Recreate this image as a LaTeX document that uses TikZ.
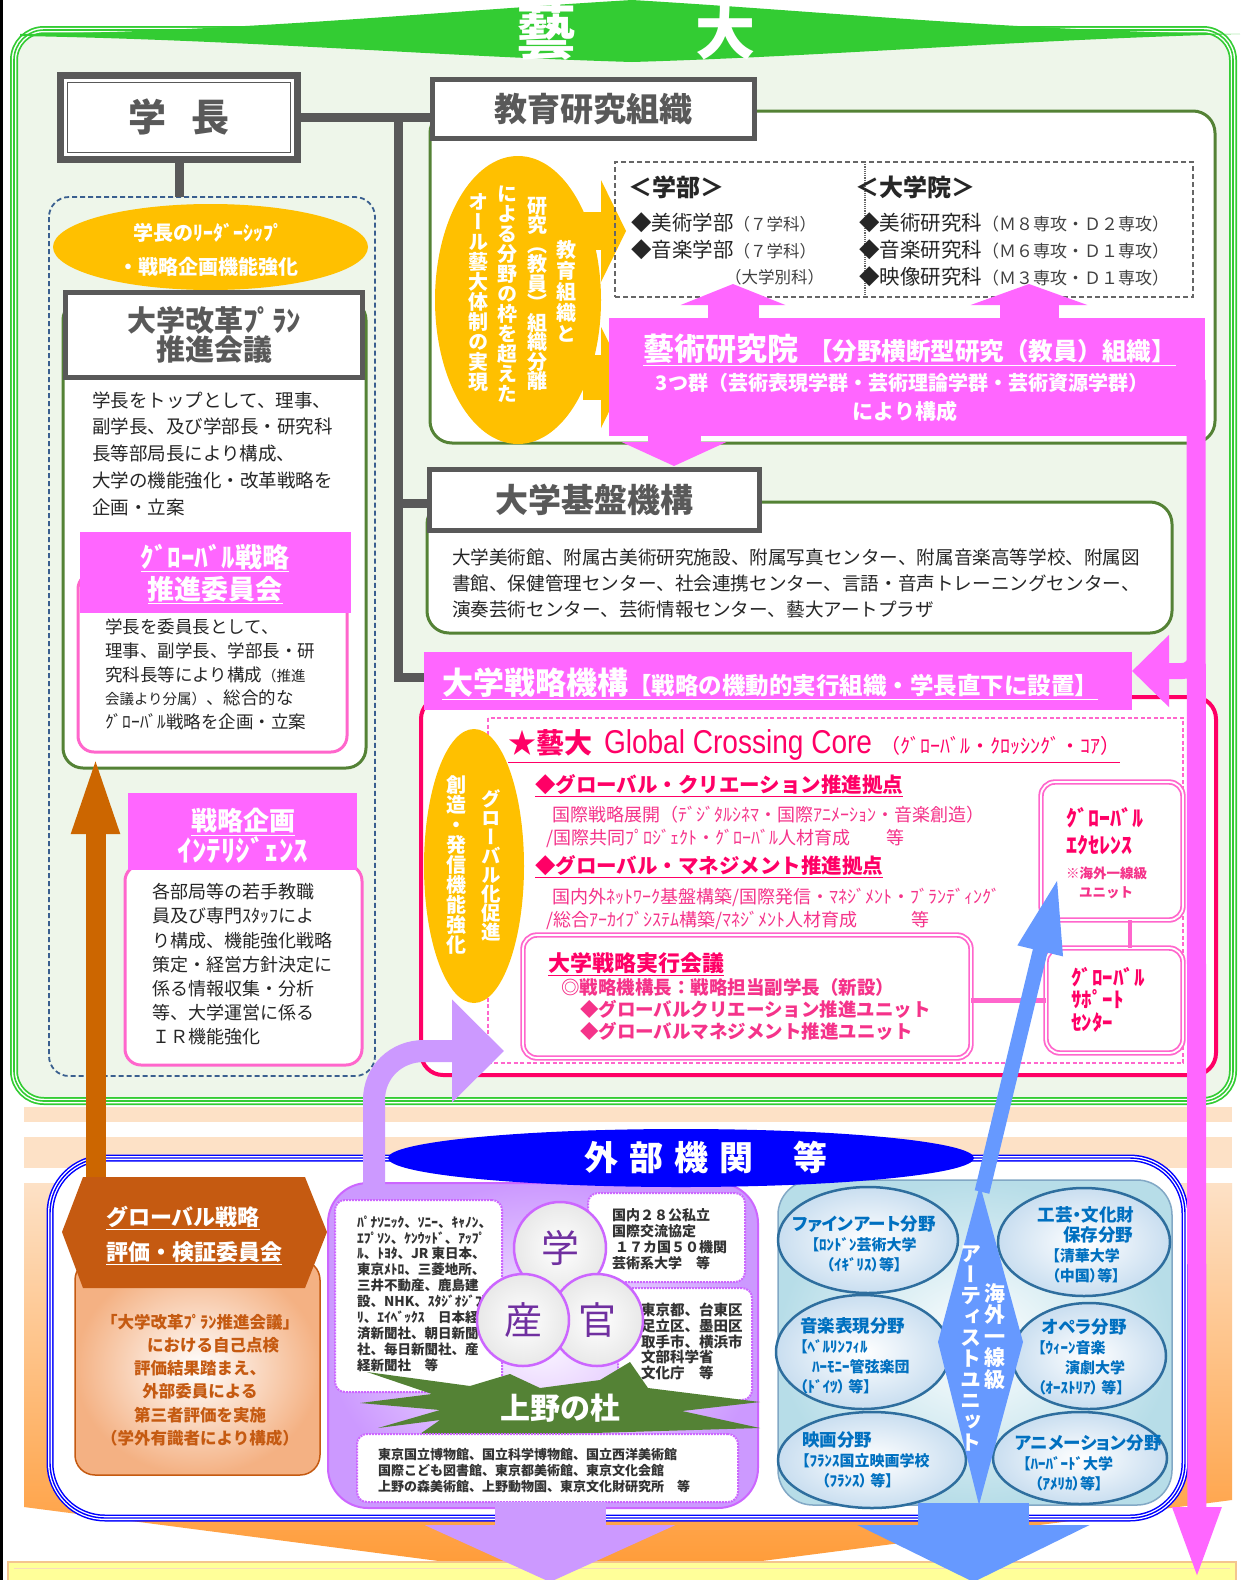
\documentclass[tikz,border=0pt]{standalone}
\usepackage{fontspec}
\usepackage{graphicx}
\setmainfont{Noto Sans CJK JP}
\newfontfamily\vfont{Noto Sans CJK JP}[RawFeature=+vert]
\newfontfamily\pf{Noto Sans CJK JP}[RawFeature=+palt]
\newfontfamily\latf{Liberation Sans}
\usetikzlibrary{arrows.meta,calc,shapes.geometric}
\newcommand\fsz[2]{\fontsize{#1}{#2}\selectfont}
\makeatletter
\newcommand\vtxt[1]{\vbox{\@tfor\vt@c:=#1\do{\hbox to 1em{\hss\vt@c\hss}}}}
\makeatother
\definecolor{cgray}{HTML}{595959}
\definecolor{cgreen}{HTML}{548235}
\definecolor{bgreen}{HTML}{33CC33}
\definecolor{lgreen}{HTML}{EEF6EA}
\definecolor{cpink}{HTML}{FF66FF}
\definecolor{lpink}{HTML}{FF66CC}
\definecolor{cred}{HTML}{FF0066}
\definecolor{tred}{HTML}{F5338A}
\definecolor{cyel}{HTML}{FFC000}
\definecolor{corg}{HTML}{C55A11}
\definecolor{carrow}{HTML}{CC6600}
\definecolor{cpur}{HTML}{CC99FF}
\definecolor{cpurd}{HTML}{CC66FF}
\definecolor{cppl}{HTML}{7030A0}
\definecolor{cblue}{HTML}{0000FF}
\definecolor{lblue}{HTML}{B7DDE8}
\definecolor{eblue}{HTML}{2E6E9E}
\definecolor{ellb}{HTML}{C9DEF0}
\definecolor{tblue}{HTML}{0070C0}
\definecolor{ablue}{HTML}{6699FF}
\definecolor{dblue}{HTML}{3A5F8F}
\definecolor{peach}{HTML}{FDE1C6}
\definecolor{corange}{HTML}{FF9933}
\definecolor{ybox}{HTML}{FFFF99}
\definecolor{ybord}{HTML}{F4C58E}
\definecolor{lorg}{HTML}{F4B183}
\definecolor{cgl}{HTML}{E8E8E8}
\begin{document}
\begin{tikzpicture}[x=1pt,y=-1pt,
  every node/.style={inner sep=0pt,outer sep=0pt},
  hdr/.style={draw=cgray,line width=5,fill=white,text=cgray,font=\bfseries\fsz{33}{33}},
  gbox/.style={draw=cgreen,line width=3,fill=white,rounded corners=22},
  pbox/.style={draw=lpink,line width=3,fill=white,rounded corners=16},
  dpbox/.style={draw=lpink,double=white,double distance=1.8,line width=1.8,fill=white,rounded corners=14},
  wt/.style={text=white,font=\bfseries\fsz{#1}{#1}},
  vt/.style={text=white,font=\vfont\bfseries\fsz{20}{20}},
  rt/.style={text=cred,font=\bfseries\fsz{#1}{#1}},
  ptx/.style={text=tred,font=\fsz{#1}{#1}},
  blt/.style={text=tblue,font=\pf\bfseries\fsz{15}{20},align=left,anchor=west},
  ell/.style={draw=eblue,line width=2.5,inner color=white,outer color=ellb},
  dotbox/.style={draw=cpurd,densely dotted,line width=2,fill=white,rounded corners=10}
]
\useasboundingbox (0,0) rectangle (1241,1580);
\fill[white] (0,0) rectangle (1241,1580);
\draw[black,line width=2.5] (1.25,0) -- (1.25,1580);

% ---------- lower background ----------
\fill[peach] (24,1107) rectangle (1232,1122);
\fill[peach] (24,1137) rectangle (1232,1168);
\shade[top color=peach,bottom color=corange] (24,1183) -- (1232,1183) -- (1232,1500) -- (600,1582) -- (24,1507) -- cycle;
\fill[ybox] (8,1562) rectangle (1236,1580);
\draw[ybord,line width=1.5] (8,1580) -- (8,1562) -- (1236,1562) -- (1236,1580);
\draw[ybord!60,line width=1] (14,1568) -- (1230,1568);

% ---------- big green frame ----------
\draw[bgreen,line width=8,fill=lgreen,rounded corners=30] (14,30) rectangle (1233,1101);
\draw[white,line width=4.5,rounded corners=30] (14,30) rectangle (1233,1101);
\draw[bgreen,line width=1.6,rounded corners=30] (14,30) rectangle (1233,1101);

% banner
\fill[bgreen] (20,34) .. controls (250,31) and (430,12) .. (632,0) .. controls (834,12) and (1014,31) .. (1240,34) .. controls (1014,40) and (834,56) .. (632,62) .. controls (430,56) and (250,40) .. (20,36) -- cycle;
\node[wt=60] (geidai) at (636,32) {藝\kern119pt 大};

% ---------- 学長 ----------
\node[draw=cgray,line width=7,fill=white,minimum width=237,minimum height=84] (gakucho) at (179,117.5) {};
\draw[cgray,line width=1.5] ([shift={(7,7)}]gakucho.north west) rectangle ([shift={(-7,-7)}]gakucho.south east);
\node[text=cgray,font=\bfseries\fsz{38}{38}] (gakuchoT) at (179,117) {学\kern25pt 長};

% ---------- 教育研究組織 ----------
\draw[gbox] (430,111) rectangle (1215,443);
\node[hdr,minimum width=322,minimum height=59] (kyoiku) at (593.5,109) {教育研究組織};

% yellow ellipse with arrows
\fill[cyel] (518,300) ellipse [x radius=83,y radius=144];
\fill[cyel] (583,212) rectangle (601,250);
\fill[cyel] (601,180) -- (626,231) -- (601,282) -- cycle;
\fill[cyel] (583,355) rectangle (601,400);
\fill[cyel] (601,327) -- (626,377) -- (601,428) -- cycle;
\node[vt,font=\vfont\bfseries\fsz{20}{21}] (yv1) at (566,291) {\vtxt{教育組織と}};
\node[vt,font=\vfont\bfseries\fsz{20}{19.5}] (yv2) at (537,294) {\vtxt{研究︵教員︶組織分離}};
\node[vt] (yv3) at (507,294) {\vtxt{による分野の枠を超えた}};
\node[vt] (yv4) at (478,293) {\vtxt{オール藝大体制の実現}};

% 学部 / 大学院 box
\node[draw=gray!80!black,dash pattern=on 5pt off 3pt,line width=1.5,minimum width=578,minimum height=135,anchor=north west] (gakubox) at (615,162) {};
\draw[gray!80!black,densely dotted,line width=1.2] (gakubox.north) ++(-39,0) coordinate (dv1) -- (dv1 |- gakubox.south);
\node[anchor=west,font=\bfseries\fsz{24}{24},text=black!85] (gakubu) at (628,187) {＜学部＞};
\node[anchor=west,align=left,font=\fsz{20.5}{27},text=black!85] (gbl) at (631,236.5) {◆美術学部{\fsz{16.5}{27}\color{black!75}（７学科）}\\◆音楽学部{\fsz{16.5}{27}\color{black!75}（７学科）}};
\node[anchor=east,font=\fsz{16.5}{16.5},text=black!75] (gbb) at (824,277) {（大学別科）};
\node[anchor=west,font=\bfseries\fsz{24}{24},text=black!85] (daigakuin) at (855,187) {＜大学院＞};
\node[anchor=west,align=left,font=\fsz{20.5}{27},text=black!85] (gil) at (859,250) {◆美術研究科{\fsz{17}{27}\color{black!75}（Ｍ８専攻・Ｄ２専攻）}\\◆音楽研究科{\fsz{17}{27}\color{black!75}（Ｍ６専攻・Ｄ１専攻）}\\◆映像研究科{\fsz{17}{27}\color{black!75}（Ｍ３専攻・Ｄ１専攻）}};

% 藝術研究院
\node[fill=cpink,minimum width=596,minimum height=118,anchor=north west] (geiken) at (609,318) {};
\coordinate (ua1) at (733,284);
\coordinate (ua2) at (1029,284);
\draw[cpink,line width=51,-{Triangle[length=21pt,width=104pt]}] (ua1 |- geiken.north) -- (ua1);
\draw[cpink,line width=59,-{Triangle[length=21pt,width=116pt]}] (ua2 |- geiken.north) -- (ua2);
\node[anchor=west,text=white] (geikenT) at (643,350) {\underline{{\bfseries\fsz{31}{31}藝術研究院}\hspace{10pt}{\bfseries\fsz{24.5}{25}【分野横断型研究（教員）組織】}}};
\node[wt=20] (gunT) at (902,383) {3つ群（芸術表現学群・芸術理論学群・芸術資源学群）};
\node[wt=21] (koseiT) at (905,411) {により構成};

% ---------- 大学基盤機構 ----------
\draw[gbox] (427,502) rectangle (1172,633);
\node[hdr,minimum width=330,minimum height=61] (kiban) at (594.5,500) {大学基盤機構};
\node[anchor=west,align=left,font=\fsz{18.6}{26},text=black!85] (kibanT) at (452,584) {大学美術館、附属古美術研究施設、附属写真センター、附属音楽高等学校、附属図\\書館、保健管理センター、社会連携センター、言語・音声トレーニングセンター、\\演奏芸術センター、芸術情報センター、藝大アートプラザ};
\coordinate (da1) at (674,466);
\draw[cpink,line width=53,-{Triangle[length=24pt,width=104pt]}] (da1 |- geiken.south) -- (da1);

% ---------- 大学戦略機構 ----------
\draw[draw=cred,line width=4,fill=white,rounded corners=22] (421,697) rectangle (1216,1075);
\draw[lpink,dash pattern=on 4pt off 2.5pt,line width=1.3] (488,718) rectangle (1183,1063);
\node[fill=cpink,minimum width=708,minimum height=58,anchor=north west] (senryaku) at (424,652) {};
\node[anchor=west,text=white] (senryakuT) at (442,684) {\underline{{\bfseries\fsz{31}{31}大学戦略機構}{\bfseries\fsz{23.5}{24}【戦略の機動的実行組織・学長直下に設置】}}};

% yellow ellipse in red box
\fill[cyel] (474,866) ellipse [x radius=50,y radius=137];
\node[vt,font=\vfont\bfseries\fsz{19.5}{19}] (gv1) at (491,865) {\vtxt{グローバル化促進}};
\node[vt] (gv2) at (456,865) {\vtxt{創造・発信機能強化}};

% Global Crossing Core texts
\node[anchor=west,text=cred] (gcc) at (508,746) {\underline{{\bfseries\fsz{28}{28}★藝大}\hspace{12pt}{\latf\fsz{33}{33}\scalebox{0.85}[1]{Global Crossing Core}}\hspace{8pt}{\fsz{20}{20}（ｸﾞﾛｰﾊﾞﾙ・ｸﾛｯｼﾝｸﾞ・ｺｱ）}}};
\node[anchor=west,rt=20.5] (gc1) at (535,786) {\underline{◆グローバル・クリエーション推進拠点}};
\node[anchor=west,ptx=18] (gc2) at (552,815) {国際戦略展開（ﾃﾞｼﾞﾀﾙｼﾈﾏ・国際ｱﾆﾒｰｼｮﾝ・音楽創造）};
\node[anchor=west,ptx=18] (gc3) at (546,838) {/国際共同ﾌﾟﾛｼﾞｪｸﾄ・ｸﾞﾛｰﾊﾞﾙ人材育成　　等};
\node[anchor=west,rt=20.5] (gc4) at (535,867) {\underline{◆グローバル・マネジメント推進拠点}};
\node[anchor=west,ptx=18] (gc5) at (552,897) {国内外ﾈｯﾄﾜｰｸ基盤構築/国際発信・ﾏﾈｼﾞﾒﾝﾄ・ﾌﾞﾗﾝﾃﾞｨﾝｸﾞ};
\node[anchor=west,ptx=18] (gc6) at (546,920) {/総合ｱｰｶｲﾌﾞｼｽﾃﾑ構築/ﾏﾈｼﾞﾒﾝﾄ人材育成　　　等};

% 大学戦略実行会議
\node[dpbox,minimum width=448,minimum height=123] (jikko) at (747,996.5) {};
\node[anchor=west,rt=22] (jk1) at (548,964) {\underline{大学戦略実行会議}};
\node[anchor=west,text=tred,font=\bfseries\fsz{18.5}{22},align=left] (jk2) at (561,1010) {◎戦略機構長：戦略担当副学長（新設）\\\hspace{19pt}◆グローバルクリエーション推進ユニット\\\hspace{19pt}◆グローバルマネジメント推進ユニット};

% excellence / support
\node[dpbox,minimum width=142,minimum height=138] (excel) at (1112,851) {};
\node[dpbox,minimum width=137,minimum height=105] (support) at (1114.5,1000.5) {};
\node[anchor=west,text=cred,font=\bfseries\fsz{22}{27},align=left] (ex1) at (1066,831.5) {ｸﾞﾛｰﾊﾞﾙ\\ｴｸｾﾚﾝｽ};
\node[anchor=west,text=tred,font=\bfseries\fsz{13.5}{19},align=left] (ex2) at (1066,882.5) {※海外一線級\\\hspace{13pt}ユニット};
\node[anchor=west,text=cred,font=\bfseries\fsz{21}{22.5},align=left] (sp1) at (1071,999.5) {ｸﾞﾛｰﾊﾞﾙ\\ｻﾎﾟｰﾄ\\ｾﾝﾀｰ};
\draw[lpink,line width=4] ($(excel.south)+(18,0)$) -- ($(support.north)+(15.5,0)$);
\draw[lpink,line width=5] (jikko.east |- support.west) -- (support.west);

% ---------- left column ----------
\draw[dblue,dash pattern=on 5pt off 3pt,line width=1.8,rounded corners=20] (49,197) rectangle (375,1076);
\coordinate (lboxtop) at (179,197);
\node[ellipse,fill=cyel,minimum width=315,minimum height=86] (leader) at (210.5,247) {};
\node[wt=20,align=center,font=\bfseries\fsz{20}{34}] (leaderT) at (208,250) {学長のﾘｰﾀﾞｰｼｯﾌﾟ\\・戦略企画機能強化};

\draw[gbox,rounded corners=20] (63,300) rectangle (366,768);
\node[hdr,minimum width=297,minimum height=85,align=center,font=\bfseries\fsz{29}{29}] (kaikaku) at (214,335) {大学改革ﾌﾟﾗﾝ\\推進会議};
\node[anchor=west,align=left,font=\fsz{18.5}{26.75},text=black!85] (kaikakuB) at (92,453.5) {学長をトップとして、理事、\\副学長、及び学部長・研究科\\長等部局長により構成、\\大学の機能強化・改革戦略を\\企画・立案};

\draw[pbox] (78,573) rectangle (347,752);
\node[fill=cpink,minimum width=271,minimum height=81] (gsuishin) at (215.5,572.5) {};
\node[wt=27,align=center,font=\bfseries\fsz{27}{32}] (gsuishinT) at (215,574) {\underline{ｸﾞﾛｰﾊﾞﾙ戦略}\\\underline{推進委員会}};
\node[anchor=west,align=left,font=\fsz{17.5}{23.75},text=black!85] (gsB) at (105,674.5) {学長を委員長として、\\理事、副学長、学部長・研\\究科長等により構成{\fsz{14.5}{23.75}（推進}\\{\fsz{14.5}{23.75}会議より分属）}、総合的な\\ｸﾞﾛｰﾊﾞﾙ戦略を企画・立案};

\draw[pbox] (125,865) rectangle (362,1065);
\node[fill=cpink,minimum width=229,minimum height=77] (kikaku) at (242.5,831.5) {};
\node[wt=26,align=center,font=\bfseries\fsz{26}{29}] (kikakuT) at (243,836) {\underline{戦略企画}\\{\fsz{29}{29}ｲﾝﾃﾘｼﾞｪﾝｽ}};
\node[anchor=west,align=left,font=\fsz{18}{24.2},text=black!85] (kikakuB) at (152,964.5) {各部局等の若手教職\\員及び専門ｽﾀｯﾌによ\\り構成、機能強化戦略\\策定・経営方針決定に\\係る情報収集・分析\\等、大学運営に係る\\ＩＲ機能強化};

% ---------- gray connectors ----------
\coordinate (j1) at (398,113);
\coordinate (j2) at (398,503);
\coordinate (j3) at (398,677);
\draw[cgray,line width=9] (gakucho.east) -- (gakucho.east -| kyoiku.west);
\draw[cgray,line width=9] (j1) -- (j3) -- (j3 -| senryaku.west);
\draw[cgray,line width=9] (j2) -- (j2 -| kiban.west);
\draw[cgray,line width=9] (gakucho.south) -- (lboxtop);

% ---------- 外部機関 frame ----------
\draw[cblue,line width=7,fill=white,rounded corners=55] (50,1158) rectangle (1185,1518);
\draw[white,line width=4,rounded corners=55] (50,1158) rectangle (1185,1518);
\draw[cblue,line width=1.4,rounded corners=55] (50,1158) rectangle (1185,1518);

% orange committee
\path[draw=corg,line width=1.5,inner color=white,outer color=lorg,rounded corners=20] (75,1260) rectangle (320,1475);
\fill[corg] (83,1177) -- (305,1177) -- (327,1232) -- (305,1288) -- (83,1288) -- (62,1232) -- cycle;
\coordinate (ohdrtop) at (95.5,1177);
\node[anchor=west,align=left,wt=22,font=\bfseries\fsz{22}{35}] (ohdr) at (106,1235.5) {\underline{グローバル戦略}\\\underline{評価・検証委員会}};
\node[align=center,text=corg,font=\bfseries\fsz{16.5}{23.2}] (obody) at (200,1380) {「大学改革ﾌﾟﾗﾝ推進会議」\\\hspace{26pt}における自己点検\\評価結果踏まえ、\\外部委員による\\第三者評価を実施\\（学外有識者により構成）};
\coordinate (otip) at (95.5,752);
\draw[carrow,line width=20,-{Triangle[length=82pt,width=42pt]}] (ohdrtop) -- (otip);

% ---------- 産学官 group ----------
\path[draw=cpurd,line width=2,inner color=cpur!10,outer color=cpur,rounded corners=40] (328,1183) rectangle (758,1508);
\node[dotbox,minimum width=167,minimum height=192,anchor=north west] (sang) at (335,1200) {};
\node[dotbox,minimum width=157,minimum height=89,anchor=north west] (gakub) at (588,1193) {};
\node[dotbox,minimum width=134,minimum height=112,anchor=north west] (kanb) at (618,1288) {};
\node[anchor=west,align=left,font=\bfseries\fsz{13.5}{15.9},text=black!80] (sangT) at (357,1293.5) {ﾊﾟﾅｿﾆｯｸ、ｿﾆｰ、ｷｬﾉﾝ、\\ｴﾌﾟｿﾝ、ｹﾝｳｯﾄﾞ、ｱｯﾌﾟ\\ﾙ、ﾄﾖﾀ、JR 東日本、\\東京ﾒﾄﾛ、三菱地所、\\三井不動産、鹿島建\\設、NHK、ｽﾀｼﾞｵｼﾞﾌﾞ\\ﾘ、ｴｲﾍﾞｯｸｽ　日本経\\済新聞社、朝日新聞\\社、毎日新聞社、産\\経新聞社　等};
\node[anchor=west,align=left,font=\bfseries\fsz{14}{16},text=black!80] (gakuT) at (612,1239) {国内２８公私立\\国際交流協定\\\hspace{3pt}１７カ国５０機関\\芸術系大学　等};
\node[anchor=west,align=left,font=\bfseries\fsz{14.5}{15.8},text=black!80] (kanT) at (641,1341.5) {東京都、台東区\\足立区、墨田区\\取手市、横浜市\\文部科学省\\文化庁　等};
\node[circle,draw=cpurd,line width=2.5,inner color=white,outer color=cgl,minimum size=92,text=cppl,font=\fsz{38}{38}] (gaku) at (560,1248) {学};
\node[circle,draw=cpurd,line width=2.5,inner color=white,outer color=cgl,minimum size=92,text=cppl,font=\fsz{38}{38}] (kan) at (597,1320) {官};
\node[circle,draw=cpurd,line width=2.5,inner color=white,outer color=cgl,minimum size=92,text=cppl,font=\fsz{38}{38}] (san) at (523,1320) {産};
\fill[cgreen] (360,1403) -- (432,1394) -- (367,1372) -- (470,1386) -- (510,1374) -- (540,1388) -- (600,1380) -- (630,1362) -- (648,1388) -- (760,1402) -- (682,1411) -- (760,1428) -- (560,1434) -- (420,1434) -- (440,1420) -- (378,1428) -- (440,1410) -- cycle;
\node[wt=30] (uenoT) at (560,1408) {上野の杜};
\node[dotbox,minimum width=381,minimum height=68,anchor=north west] (museum) at (357,1434) {};
\node[anchor=west,align=left,font=\bfseries\fsz{13}{16},text=black!80] (museumT) at (378,1471) {東京国立博物館、国立科学博物館、国立西洋美術館\\国際こども図書館、東京都美術館、東京文化会館\\上野の森美術館、上野動物園、東京文化財研究所　等};

% purple curved arrow
\coordinate (pstart) at (374,1185);
\coordinate (ptip) at (504,1051);
\draw[cpur,line width=22,-{Triangle[length=52pt,width=100pt]}] (pstart) -- (374,1100) .. controls (374,1072) and (396,1051) .. (424,1051) -- (ptip);

% ---------- overseas group ----------
\path[draw=eblue!60,line width=1.5,inner color=white,outer color=lblue,rounded corners=35] (778,1180) rectangle (1172,1505);
\path[ell] (868,1240) ellipse [x radius=90,y radius=53];
\path[ell] (1084,1242) ellipse [x radius=86,y radius=54];
\path[ell] (863,1352) ellipse [x radius=87,y radius=57];
\path[ell] (1089,1356) ellipse [x radius=77,y radius=53];
\path[ell] (872,1460) ellipse [x radius=94,y radius=48];
\path[ell] (1080,1458) ellipse [x radius=87,y radius=46];
\node[blt,align=center,anchor=center] (e1) at (864,1244) {{\fsz{17.5}{20}ファインアート分野}\\【ﾛﾝﾄﾞﾝ芸術大学\\（ｲｷﾞﾘｽ）等】};
\node[blt,align=center,anchor=center] (e2) at (1086,1244.5) {{\fsz{17.5}{20}工芸・文化財}\\{\fsz{17.5}{20}\hspace{24pt}保存分野}\\【清華大学\\（中国）等】};
\node[blt] (e3) at (800,1356) {{\fsz{17.5}{20}音楽表現分野}\\【ﾍﾞﾙﾘﾝﾌｨﾙ\\\hspace{12pt}ﾊｰﾓﾆｰ管弦楽団\\（ﾄﾞｲﾂ） 等】};
\node[blt] (e4) at (1038,1357) {{\fsz{17.5}{20}\hspace{4pt}オペラ分野}\\【ｳｨｰﾝ音楽\\\hspace{27pt}演劇大学\\（ｵｰｽﾄﾘｱ） 等】};
\node[blt] (e5) at (802,1459.5) {{\fsz{17.5}{20}映画分野}\\【ﾌﾗﾝｽ国立映画学校\\\hspace{20pt}（ﾌﾗﾝｽ） 等】};
\node[blt] (e6) at (1015,1462.5) {{\fsz{17.5}{20}アニメーション分野}\\\hspace{8pt}【ﾊｰﾊﾞｰﾄﾞ大学\\\hspace{20pt}（ｱﾒﾘｶ）等】};
\fill[ablue] (980,1185) -- (1023,1342) -- (979,1505) -- (938,1342) -- cycle;
\node[vt,font=\vfont\bfseries\fsz{21}{21.5}] (dm1) at (995,1336.5) {\vtxt{海外一線級}};
\node[vt,font=\vfont\bfseries\fsz{21}{21}] (dm2) at (971,1348) {\vtxt{アーティストユニット}};

% 外部機関 ellipse
\node[ellipse,fill=cblue,minimum width=586,minimum height=58] (gaibu) at (681,1158) {};
\node[wt=34] (gaibuT) at (706,1157) {外\kern11pt 部\kern11pt 機\kern11pt 関\kern40pt 等};

% blue arrow up
\coordinate (bstart) at (982,1192);
\coordinate (btip) at (1058,877);
\draw[ablue,line width=15,-{Triangle[length=76pt,width=42pt]}] (bstart) -- (btip);

% ---------- down arrows ----------
\coordinate (pd) at (550,1582);
\coordinate (bd) at (973.5,1582);
\draw[cpur,line width=111,-{Triangle[length=57pt,width=249pt]}] (pd |- museum.south) -- (pd);
\draw[ablue,line width=111,-{Triangle[length=57pt,width=230pt]}] (973.5,1503) -- (bd);

% pink right route
\coordinate (pk0) at (1196,380);
\coordinate (pk1) at (1197,1582);
\draw[cpink,line width=19,-{Triangle[length=75pt,width=43pt]}] (pk0) -- (pk1);
\coordinate (pkb) at (1196,600);
\draw[cpink,line width=16,rounded corners=14,-{Triangle[length=37pt,width=70pt]}] (pkb) -- (1196,671) -- (senryaku.east |- 0,671);
\end{tikzpicture}
\end{document}
